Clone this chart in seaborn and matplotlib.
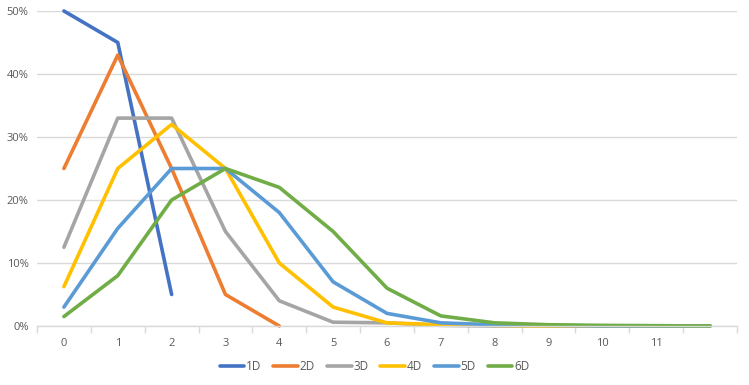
import pandas as pd
import seaborn as sns
import matplotlib.pyplot as plt
from matplotlib.ticker import FuncFormatter, MultipleLocator

# probability (%) of rolling N successes, by number of dice
series_names = ['1D', '2D', '3D', '4D', '5D', '6D']
d1 = [50, 45, 5]
d2 = [25, 43, 25, 5, 0]
d3 = [12.5, 33, 33, 15, 4, 0.6, 0.5, 0.1, 0, 0, 0, 0, 0]
d4 = [6.25, 25, 32, 25, 10, 3, 0.5, 0.2, 0.1, 0, 0, 0, 0]
d5 = [3, 15.5, 25, 25, 18, 7, 2, 0.5, 0.2, 0.1, 0, 0, 0]
d6 = [1.5, 8, 20, 25, 22, 15, 6, 1.6, 0.5, 0.2, 0.1, 0.05, 0]
tick_labels = [str(i) for i in range(12)] + ['']

colors = ['#4472C4', '#ED7D31', '#A5A5A5', '#FFC000', '#5B9BD5', '#70AD47']

frames = []
for name, vals in zip(series_names, [d1, d2, d3, d4, d5, d6]):
    frames.append(pd.DataFrame({'x': range(len(vals)), 'pct': vals, 'dice': name}))
df = pd.concat(frames, ignore_index=True)

sns.set_theme(style="white")
plt.rcParams['font.family'] = ['Open Sans', 'DejaVu Sans']
grey = '#595959'

fig = plt.figure(figsize=(7.49, 3.85), dpi=100)
ax = fig.add_axes([37 / 749, 1 - 326 / 385, 700 / 749, 315 / 385])

sns.lineplot(data=df, x='x', y='pct', hue='dice', hue_order=series_names,
             palette=colors, linewidth=2.6, ax=ax, legend=True, sort=False)
for line in ax.get_lines():
    line.set_clip_on(False)
    line.set_solid_capstyle('round')

ax.set_xlim(-0.5, 12.5)
ax.set_ylim(0, 50)
ax.yaxis.set_major_locator(MultipleLocator(10))
ax.yaxis.set_major_formatter(FuncFormatter(lambda v, p: f'{v:.0f}%'))
ax.grid(axis='y', color='#D9D9D9', linewidth=1)
ax.set_axisbelow(True)
ax.set_xticks(range(13))
ax.set_xticklabels(tick_labels)
ax.set_xticks([i - 0.5 for i in range(14)], minor=True)
ax.tick_params(axis='x', which='major', length=0, pad=9, labelsize=8, labelcolor=grey)
ax.tick_params(axis='x', which='minor', length=5, width=1, color='#D9D9D9', bottom=True)
ax.tick_params(axis='y', length=0, pad=6, labelsize=8, labelcolor=grey)
ax.set_xlabel('')
ax.set_ylabel('')
for s in ['top', 'right', 'left']:
    ax.spines[s].set_visible(False)
ax.spines['bottom'].set_color('#D9D9D9')
ax.spines['bottom'].set_linewidth(1)

handles, labels = ax.get_legend_handles_labels()
ax.get_legend().remove()
leg = fig.legend(handles, labels, loc='center', bbox_to_anchor=(0.5, 1 - 367 / 385),
                 ncol=6, frameon=False, handlelength=2.1, handletextpad=0.15,
                 columnspacing=1.0, fontsize=8.5)
for t in leg.get_texts():
    t.set_color(grey)

fig.savefig('out.png', dpi=100)
